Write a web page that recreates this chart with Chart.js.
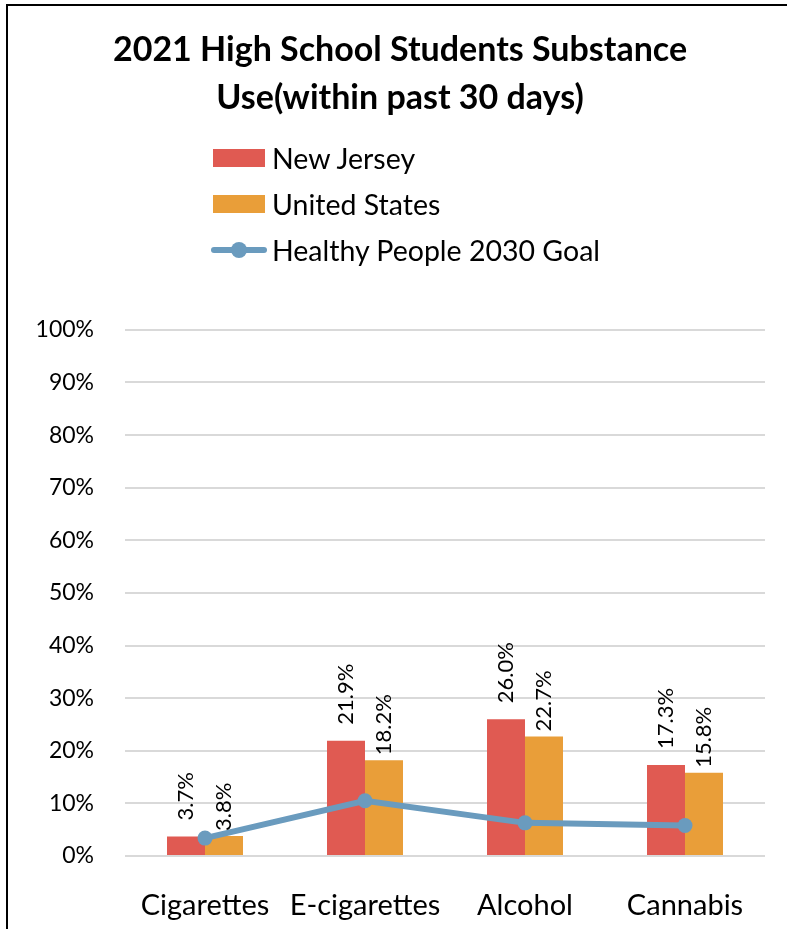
<!DOCTYPE html>
<html>
<head>
<meta charset="utf-8">
<script src="https://cdn.jsdelivr.net/npm/chart.js@4.4.0/dist/chart.umd.min.js"></script>
<style>
body { margin: 0; background: #fff; }
#wrap { position: relative; width: 787px; height: 929px; overflow: hidden; }
#frame { position: absolute; left: 6px; top: 4px; right: -4px; bottom: -4px; border-left: 2px solid #000; border-top: 2px solid #000; pointer-events: none; }
#legend { position: absolute; left: 211px; top: 135px; font-family: Lato, sans-serif; font-size: 28.5px; color: #000; }
.row { height: 46px; display: flex; align-items: center; }
.sw { width: 56px; height: 18px; margin-right: 5px; position: relative; }
</style>
</head>
<body>
<div id="wrap">
  <canvas id="chart" width="787" height="929"></canvas>
  <div id="frame"></div>
  <div id="legend"></div>
</div>
<script>
var categories = ["Cigarettes", "E-cigarettes", "Alcohol", "Cannabis"];
var newJersey = [3.7, 21.9, 26.0, 17.3];
var unitedStates = [3.8, 18.2, 22.7, 15.8];
var hpGoal = [3.4, 10.5, 6.3, 5.8];

var red = "#E05A52";
var orange = "#E99E39";
var blue = "#6A9BBE";

// rotated value labels above the bars
var barLabels = {
    id: "barLabels",
    afterDatasetsDraw: function (chart) {
        var ctx = chart.ctx;
        var offsets = [16, 5];
        chart.data.datasets.forEach(function (ds, i) {
            if (ds.type == "line") return;
            var meta = chart.getDatasetMeta(i);
            meta.data.forEach(function (bar, j) {
                ctx.save();
                ctx.translate(bar.x, bar.y - offsets[i]);
                ctx.rotate(-Math.PI / 2);
                ctx.font = "22px Lato";
                ctx.fillStyle = "#000";
                ctx.textAlign = "left";
                ctx.textBaseline = "middle";
                ctx.fillText(ds.data[j].toFixed(1) + "%", 0, 0);
                ctx.restore();
            });
        });
    }
};

var ctx = document.getElementById("chart").getContext("2d");
var chart = new Chart(ctx, {
    data: {
        labels: categories,
        datasets: [{
            type: "bar",
            label: "New Jersey",
            data: newJersey,
            backgroundColor: red,
            barPercentage: 1,
            categoryPercentage: 0.475,
            order: 1
        }, {
            type: "bar",
            label: "United States",
            data: unitedStates,
            backgroundColor: orange,
            barPercentage: 1,
            categoryPercentage: 0.475,
            order: 1
        }, {
            type: "line",
            label: "Healthy People 2030 Goal",
            data: hpGoal,
            borderColor: blue,
            backgroundColor: blue,
            borderWidth: 6,
            pointRadius: 7.5,
            pointBorderWidth: 0,
            pointBackgroundColor: blue,
            tension: 0,
            order: 0
        }]
    },
    options: {
        responsive: false,
        animation: false,
        layout: { padding: { left: 35, right: 22, top: 0, bottom: 0 } },
        plugins: {
            legend: { display: false },
            tooltip: { enabled: false },
            title: {
                display: true,
                text: ["2021 High School Students Substance", "Use(within past 30 days)"],
                color: "#000",
                font: { family: "Lato", size: 34, weight: "bold", lineHeight: 1.41 },
                padding: { top: 26, bottom: 208 }
            }
        },
        scales: {
            x: {
                grid: { display: false },
                border: { display: false },
                ticks: { color: "#000", font: { family: "Lato", size: 29 }, padding: 24 },
                afterFit: function (s) { s.height = 73; }
            },
            y: {
                min: 0,
                max: 100,
                ticks: {
                    stepSize: 10,
                    color: "#000",
                    font: { family: "Lato", size: 23 },
                    padding: 31,
                    callback: function (v) { return v + "%"; }
                },
                grid: { color: "#D9D9D9", lineWidth: 2, drawTicks: false },
                border: { display: false },
                afterFit: function (s) { s.width = 90; }
            }
        }
    },
    plugins: [barLabels]
});

// legend, one item per row
var legend = document.getElementById("legend");
chart.data.datasets.forEach(function (ds) {
    var row = document.createElement("div");
    row.className = "row";
    var sw = document.createElement("div");
    sw.className = "sw";
    if (ds.type == "line") {
        sw.innerHTML = '<div style="position:absolute;left:0;right:0;top:6px;height:6px;border-radius:3px;background:' + blue + '"></div>' +
            '<div style="position:absolute;left:20px;top:1px;width:16px;height:16px;border-radius:8px;background:' + blue + '"></div>';
    } else {
        sw.style.background = ds.backgroundColor;
        sw.style.width = "52px";
        sw.style.marginLeft = "2px";
        sw.style.marginRight = "7px";
    }
    var txt = document.createElement("span");
    txt.textContent = ds.label;
    row.appendChild(sw);
    row.appendChild(txt);
    legend.appendChild(row);
});
</script>
</body>
</html>
